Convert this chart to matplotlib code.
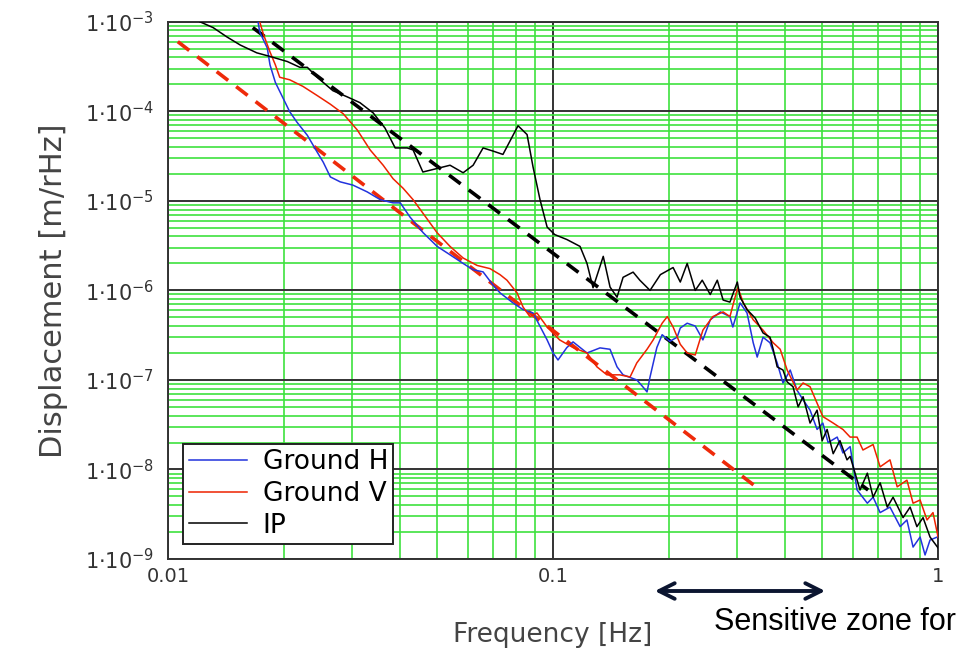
import numpy as np
import matplotlib
matplotlib.use("Agg")
import matplotlib.pyplot as plt
from matplotlib.ticker import LogLocator, FuncFormatter, NullFormatter

# ---- data ----
ip_freq = [0.0121, 0.0131, 0.0142, 0.0154, 0.0170, 0.0184, 0.0204, 0.0220, 0.0230, 0.0244,
           0.0268, 0.0292, 0.0315, 0.0341, 0.0366, 0.0389, 0.0418, 0.0433, 0.0459, 0.0500,
           0.0540, 0.0584, 0.0620, 0.0658, 0.0698, 0.0741, 0.0811, 0.0856, 0.0887, 0.0925,
           0.0965, 0.101, 0.1086, 0.1175, 0.1225, 0.127, 0.135, 0.1406, 0.1466, 0.152,
           0.1614, 0.168, 0.1786, 0.190, 0.205, 0.214, 0.223, 0.234, 0.244, 0.256,
           0.267, 0.2765, 0.288, 0.301, 0.306, 0.319, 0.335, 0.351, 0.366, 0.373,
           0.382, 0.3955, 0.4055, 0.420, 0.433, 0.446, 0.465, 0.485, 0.500, 0.515,
           0.534, 0.556, 0.580, 0.591, 0.627, 0.655, 0.678, 0.707, 0.738, 0.764,
           0.811, 0.846, 0.881, 0.914, 0.953, 1.0]
ip_disp = [1.0e-3, 8.6e-4, 6.8e-4, 5.5e-4, 4.5e-4, 4.1e-4, 3.6e-4, 3.1e-4, 3.1e-4, 2.4e-4,
           1.7e-4, 1.45e-4, 1.25e-4, 9.6e-5, 6.5e-5, 3.9e-5, 3.9e-5, 3.7e-5, 2.1e-5, 2.3e-5,
           2.5e-5, 2.06e-5, 2.5e-5, 3.9e-5, 3.6e-5, 3.3e-5, 6.9e-5, 5.5e-5, 2.4e-5, 1.03e-5,
           5.1e-6, 4.2e-6, 3.7e-6, 3.1e-6, 2.0e-6, 1.07e-6, 2.4e-6, 1.09e-6, 8.4e-7, 1.4e-6,
           1.6e-6, 1.3e-6, 1.0e-6, 1.5e-6, 1.8e-6, 1.24e-6, 2.0e-6, 1.0e-6, 1.3e-6, 9.0e-7,
           1.3e-6, 7.8e-7, 7.4e-7, 1.24e-6, 8.4e-7, 6.1e-7, 4.9e-7, 3.35e-7, 3.0e-7, 2.2e-7,
           1.4e-7, 1.29e-7, 9.5e-8, 8.4e-8, 5.0e-8, 6.5e-8, 3.3e-8, 4.6e-8, 2.1e-8, 2.8e-8,
           1.5e-8, 2.1e-8, 1.28e-8, 1.4e-8, 5.9e-9, 9.1e-9, 4.9e-9, 7.1e-9, 3.8e-9, 4.9e-9,
           2.9e-9, 3.8e-9, 2.3e-9, 2.9e-9, 1.76e-9, 1.33e-9]

gh_freq = [0.0171, 0.0173, 0.0181, 0.0184, 0.0190, 0.0199, 0.0207, 0.0216, 0.0230, 0.0244,
           0.0253, 0.0264, 0.0280, 0.0302, 0.0329, 0.0356, 0.0384, 0.0401, 0.0425, 0.0460,
           0.0500, 0.0540, 0.0584, 0.0620, 0.0658, 0.0698, 0.0728, 0.0787, 0.0836, 0.0887,
           0.0936, 0.0965, 0.100, 0.103, 0.1086, 0.1127, 0.1225, 0.1324, 0.1406, 0.1466,
           0.152, 0.165, 0.171, 0.1754, 0.1786, 0.186, 0.192, 0.201, 0.210, 0.214,
           0.223, 0.234, 0.245, 0.256, 0.272, 0.288, 0.293, 0.306, 0.319, 0.331,
           0.339, 0.351, 0.366, 0.382, 0.3955, 0.413, 0.430, 0.446, 0.465, 0.485,
           0.502, 0.518, 0.547, 0.566, 0.591, 0.616, 0.655, 0.678, 0.707, 0.750,
           0.797, 0.830, 0.861, 0.898, 0.925, 0.953, 0.995]
gh_disp = [1.05e-3, 7.7e-4, 5.1e-4, 3.3e-4, 2.1e-4, 1.4e-4, 9.9e-5, 7.6e-5, 5.4e-5, 3.5e-5,
           2.7e-5, 1.85e-5, 1.63e-5, 1.5e-5, 1.26e-5, 1.03e-5, 9.5e-6, 9.5e-6, 6.6e-6, 4.4e-6,
           3.1e-6, 2.5e-6, 2.0e-6, 1.7e-6, 1.61e-6, 1.15e-6, 9.4e-7, 7.25e-7, 6.1e-7, 5.6e-7,
           3.6e-7, 2.8e-7, 2.0e-7, 1.67e-7, 2.3e-7, 2.66e-7, 2.0e-7, 2.28e-7, 2.2e-7, 1.4e-7,
           1.14e-7, 1.0e-7, 8.4e-8, 7.35e-8, 1.08e-7, 2.3e-7, 3.2e-7, 2.7e-7, 3.0e-7, 3.8e-7,
           4.3e-7, 4.0e-7, 2.8e-7, 4.7e-7, 5.75e-7, 5.1e-7, 3.9e-7, 7.25e-7, 5.6e-7, 2.6e-7,
           1.8e-7, 3.0e-7, 2.6e-7, 1.55e-7, 9.25e-8, 1.29e-7, 7.7e-8, 6.0e-8, 4.6e-8, 2.8e-8,
           3.3e-8, 2.0e-8, 2.3e-8, 1.53e-8, 1.8e-8, 5.9e-9, 4.2e-9, 4.9e-9, 3.3e-9, 3.8e-9,
           2.3e-9, 2.73e-9, 1.36e-9, 1.76e-9, 1.11e-9, 1.63e-9, 1.76e-9]

gv_freq = [0.0173, 0.0177, 0.0184, 0.0190, 0.0195, 0.0207, 0.0224, 0.0244, 0.0264, 0.0285,
           0.0310, 0.0335, 0.0362, 0.0384, 0.0408, 0.0433, 0.0459, 0.0500, 0.0540, 0.0584,
           0.0635, 0.0686, 0.0728, 0.0759, 0.0806, 0.0836, 0.0871, 0.0908, 0.0965, 0.104,
           0.1127, 0.1225, 0.130, 0.138, 0.149, 0.1585, 0.165, 0.1754, 0.182, 0.192,
           0.198, 0.205, 0.214, 0.223, 0.234, 0.245, 0.260, 0.2765, 0.288, 0.297,
           0.302, 0.312, 0.331, 0.351, 0.373, 0.389, 0.4055, 0.430, 0.446, 0.465,
           0.485, 0.502, 0.534, 0.566, 0.591, 0.616, 0.638, 0.678, 0.707, 0.750,
           0.783, 0.830, 0.861, 0.898, 0.936, 0.970, 1.0]
gv_disp = [1.0e-3, 7.2e-4, 4.6e-4, 3.3e-4, 2.4e-4, 2.25e-4, 1.9e-4, 1.5e-4, 1.2e-4, 9.4e-5,
           6.2e-5, 3.7e-5, 2.5e-5, 1.77e-5, 1.38e-5, 1.03e-5, 7.3e-6, 4.4e-6, 3.1e-6, 2.3e-6,
           1.9e-6, 1.75e-6, 1.5e-6, 1.3e-6, 9.4e-7, 6.5e-7, 5.1e-7, 5.6e-7, 3.9e-7, 2.8e-7,
           2.3e-7, 2.0e-7, 1.4e-7, 1.14e-7, 1.14e-7, 1.08e-7, 1.55e-7, 2.2e-7, 2.8e-7, 4.3e-7,
           5.1e-7, 3.9e-7, 2.5e-7, 2.0e-7, 1.9e-7, 3.6e-7, 5.1e-7, 5.75e-7, 5.1e-7, 8.4e-7,
           1.07e-6, 7.25e-7, 4.7e-7, 3.6e-7, 2.6e-7, 2.2e-7, 1.29e-7, 7.7e-8, 9.25e-8, 8.4e-8,
           5.5e-8, 3.9e-8, 3.3e-8, 2.8e-8, 2.3e-8, 2.3e-8, 1.65e-8, 1.9e-8, 1.07e-8, 1.28e-8,
           6.4e-9, 7.6e-9, 4.2e-9, 4.56e-9, 2.73e-9, 3.3e-9, 1.76e-9]

# straight guide lines (end points)
red_guide_freq = [0.0106, 0.345]
red_guide_disp = [6.0e-4, 5.9e-9]
black_guide_freq = [0.0166, 0.658]
black_guide_disp = [8.6e-4, 5.9e-9]

fig = plt.figure(figsize=(9.68, 6.6), dpi=100)
ax = fig.add_axes([0.1736, 0.153, 0.7955, 0.814])

ax.plot(black_guide_freq, black_guide_disp, color='black', lw=2.6, dashes=(4, 2.8), zorder=4)
ax.plot(red_guide_freq, red_guide_disp, color='#ee2a0a', lw=2.6, dashes=(4, 2.8), zorder=4)
ax.plot(gh_freq, gh_disp, color='#2233dd', lw=1.1, label='Ground H', zorder=5)
ax.plot(gv_freq, gv_disp, color='#ee2200', lw=1.1, label='Ground V', zorder=5)
ax.plot(ip_freq, ip_disp, color='black', lw=1.1, label='IP', zorder=6)

ax.set_xscale('log')
ax.set_yscale('log')
ax.set_xlim(0.01, 1)
ax.set_ylim(1e-9, 1e-3)

ax.xaxis.set_major_locator(LogLocator(base=10, numticks=10))
ax.yaxis.set_major_locator(LogLocator(base=10, numticks=12))
ax.xaxis.set_minor_locator(LogLocator(base=10, subs=np.arange(2, 10), numticks=100))
ax.yaxis.set_minor_locator(LogLocator(base=10, subs=np.arange(2, 10), numticks=100))
ax.xaxis.set_minor_formatter(NullFormatter())
ax.yaxis.set_minor_formatter(NullFormatter())
ax.xaxis.set_major_formatter(FuncFormatter(lambda v, _: '%g' % v))
ax.yaxis.set_major_formatter(FuncFormatter(lambda v, _: r'$1{\cdot}10^{%d}$' % round(np.log10(v))))

ax.grid(which='minor', color='#3ee23e', lw=1.2, zorder=1)
ax.grid(which='major', color='#333333', lw=1.4, zorder=2)
ax.set_axisbelow(True)
ax.tick_params(which='both', length=0)
ax.tick_params(axis='y', pad=10, labelsize=15, labelcolor='#333333')
ax.tick_params(axis='x', pad=6, labelsize=14, labelcolor='#333333')
for s in ax.spines.values():
    s.set_color('#333333')
    s.set_linewidth(1.4)

ax.set_xlabel('Frequency [Hz]', fontsize=19, color='#444444', labelpad=26)
ax.set_ylabel('Displacement [m/rHz]', fontsize=22, color='#444444', labelpad=12)

leg = ax.legend(loc='lower left', bbox_to_anchor=(0.02, 0.028), borderaxespad=0,
                fontsize=19, handlelength=2.2, labelspacing=0.22, borderpad=0.2,
                handletextpad=0.6, fancybox=False, framealpha=1)
leg.get_frame().set_edgecolor('#222222')
leg.get_frame().set_linewidth(1.4)
leg.set_zorder(10)

# "sensitive zone" arrow below the axis
ax.annotate('', xy=(652 / 968, 1 - 591 / 660), xytext=(828 / 968, 1 - 591 / 660),
            xycoords='figure fraction', textcoords='figure fraction',
            arrowprops=dict(arrowstyle='<->', color='#0b1530', lw=2.8, mutation_scale=28))
fig.text(0.738, 0.058, 'Sensitive zone for', fontsize=22, color='black',
         family='Liberation Sans', ha='left', va='center')

fig.savefig('out.png', dpi=100)
